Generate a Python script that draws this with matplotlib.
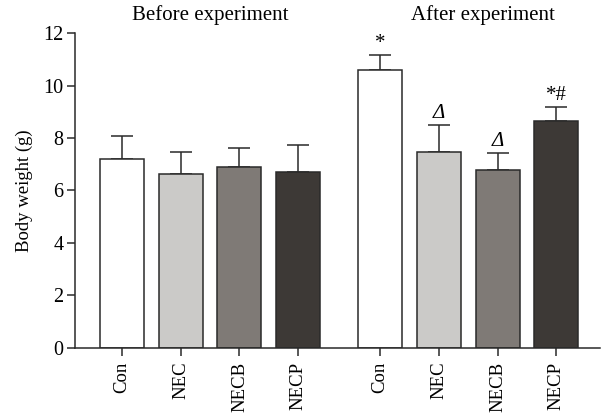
import matplotlib
matplotlib.use("Agg")
import matplotlib.pyplot as plt
import numpy as np

groups = ["Before experiment", "After experiment"]
labels = ["Con", "NEC", "NECB", "NECP"]
before_mean = [7.21, 6.63, 6.90, 6.70]
before_err = [0.87, 0.83, 0.73, 1.05]
after_mean = [10.58, 7.46, 6.80, 8.64]
after_err = [0.60, 1.02, 0.63, 0.53]
after_marks = ["*", "Δ", "Δ", "*#"]

colors = ["#ffffff", "#cbcac8", "#7f7a76", "#3d3936"]

plt.rcParams["font.family"] = ["Liberation Serif", "DejaVu Serif"]

fig = plt.figure(figsize=(6.02, 4.15), dpi=100)
ax = fig.add_axes([0.125, 0.162, 0.872, 0.758])

pos_before = np.arange(4)
pos_after = np.arange(4) + 4.4
w = 0.75

for pos, means, errs in [(pos_before, before_mean, before_err), (pos_after, after_mean, after_err)]:
    ax.bar(pos, means, width=w, color=colors, edgecolor="#2a2a2a", linewidth=1.1, zorder=2)
    ax.errorbar(pos, means, yerr=[np.zeros(4), errs], fmt="none", ecolor="#2a2a2a",
                elinewidth=1.1, capsize=8, capthick=1.1, zorder=1)

for x, m, e, s in zip(pos_after, after_mean, after_err, after_marks):
    style = "italic" if s == "Δ" else "normal"
    ax.text(x, m + e + 0.08, s, ha="center", va="bottom", fontsize=15, style=style)

ax.text(pos_before.mean(), 12.3, groups[0], ha="center", va="bottom", fontsize=15)
ax.text(pos_after.mean() + 0.25, 12.3, groups[1], ha="center", va="bottom", fontsize=15)

ax.set_xlim(-0.8, 8.15)
ax.set_ylim(0, 12)
ax.set_yticks([0, 2, 4, 6, 8, 10, 12])
ax.set_xticks(np.concatenate([pos_before, pos_after]))
ax.set_xticklabels(labels + labels, rotation=90, fontsize=13.5)
ax.tick_params(axis="y", labelsize=14.5, length=6, width=1.1, color="#2a2a2a", pad=2.5)
ax.tick_params(axis="x", length=6, width=1.1, color="#2a2a2a", pad=4)
ax.set_ylabel("Body weight (g)", fontsize=13.5, labelpad=7)
for sp in ["top", "right"]:
    ax.spines[sp].set_visible(False)
for sp in ["left", "bottom"]:
    ax.spines[sp].set_linewidth(1.1)
    ax.spines[sp].set_color("#2a2a2a")

fig.savefig("out.png", dpi=100)
